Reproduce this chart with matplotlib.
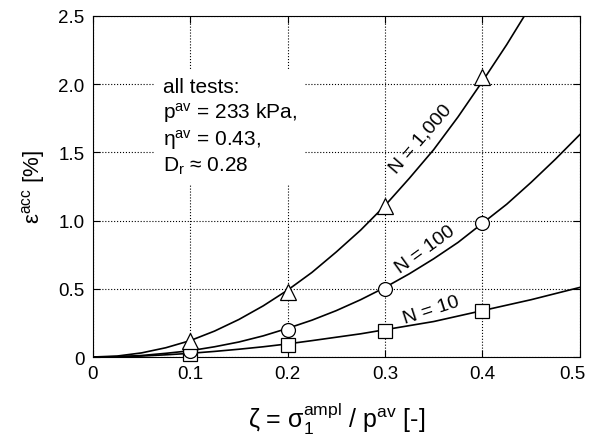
import numpy as np
from matplotlib import pyplot as plt
from matplotlib import transforms

plt.rcParams['font.family'] = ['Liberation Sans', 'DejaVu Sans']
plt.rcParams['mathtext.default'] = 'regular'

# measured points
zeta_pts = [0.1, 0.2, 0.3, 0.4]
eps_n10 = [0.02, 0.09, 0.19, 0.34]
eps_n100 = [0.045, 0.20, 0.50, 0.98]
eps_n1000 = [0.12, 0.48, 1.11, 2.05]

# fitted curves
zeta_c = [0, .025, .05, .075, .1, .125, .15, .175, .2, .225, .25, .275, .3,
          .325, .35, .375, .4, .425, .45, .475, .5]
curve_n10 = [0, .002, .007, .016, .027, .041, .057, .075, .096, .12, .145,
             .17, .2, .23, .26, .3, .34, .38, .42, .465, .51]
curve_n100 = [0, .002, .011, .027, .046, .075, .11, .155, .21, .27, .34,
              .42, .51, .61, .72, .84, .98, 1.12, 1.28, 1.45, 1.63]
curve_n1000 = [0, .007, .03, .068, .12, .19, .275, .375, .49, .62, .77,
               .93, 1.11, 1.31, 1.52, 1.76, 2.02, 2.29, 2.58]

xticks = [0, 0.1, 0.2, 0.3, 0.4, 0.5]
xlabels = ['0', '0.1', '0.2', '0.3', '0.4', '0.5']
yticks = [0, 0.5, 1.0, 1.5, 2.0, 2.5]
ylabels = ['0', '0.5', '1.0', '1.5', '2.0', '2.5']

fig = plt.figure(figsize=(5.91, 4.35), dpi=100)
ax = fig.add_axes([0.157, 0.177, 0.824, 0.784])

ax.plot(zeta_c, curve_n10, color='k', lw=1.2)
ax.plot(zeta_c, curve_n100, color='k', lw=1.2)
ax.plot(zeta_c[:len(curve_n1000)], curve_n1000, color='k', lw=1.2)

mk = dict(ls='none', mfc='white', mec='k', mew=0.9, zorder=5, clip_on=False)
ax.plot(zeta_pts, eps_n10, marker='s', ms=9.5, **mk)
ax.plot(zeta_pts, eps_n100, marker='o', ms=10, **mk)
ax.plot(zeta_pts, eps_n1000, marker='^', ms=12, **mk)

ax.set_xlim(0, 0.5)
ax.set_ylim(0, 2.5)
ax.set_xticks(xticks)
ax.set_xticklabels(xlabels)
ax.set_yticks(yticks)
ax.set_yticklabels(ylabels)
ax.tick_params(direction='in', top=True, right=True, length=5,
               labelsize=13.5, pad=6)
ax.grid(True, ls=':', color='k', lw=0.8)
ax.set_axisbelow(True)

# last x label sits a bit left of its tick, as in the original
lab = ax.get_xticklabels()[-1]
lab.set_transform(lab.get_transform() +
                  transforms.ScaledTranslation(-0.07, 0, fig.dpi_scale_trans))

ax.text(0.337, 1.60, 'N = 1,000', rotation=49, fontsize=14,
        ha='center', va='center')
ax.text(0.341, 0.79, 'N = 100', rotation=36, fontsize=14,
        ha='center', va='center')
ax.text(0.348, 0.35, 'N = 10', rotation=18, fontsize=14,
        ha='center', va='center')

ax.text(0.072, 2.05,
        'all tests:\np$^{av}$ = 233 kPa,\nη$^{av}$ = 0.43,\nD$_r$ ≈ 0.28',
        fontsize=15, ha='left', va='top', linespacing=1.2,
        bbox=dict(facecolor='white', edgecolor='none', pad=6))

ax.set_xlabel('ζ = σ$_1^{ampl}$ / p$^{av}$ [-]', fontsize=18, labelpad=12)
ax.set_ylabel('ε$^{acc}$ [%]', fontsize=16, labelpad=8)

fig.savefig('out.png', dpi=100)
